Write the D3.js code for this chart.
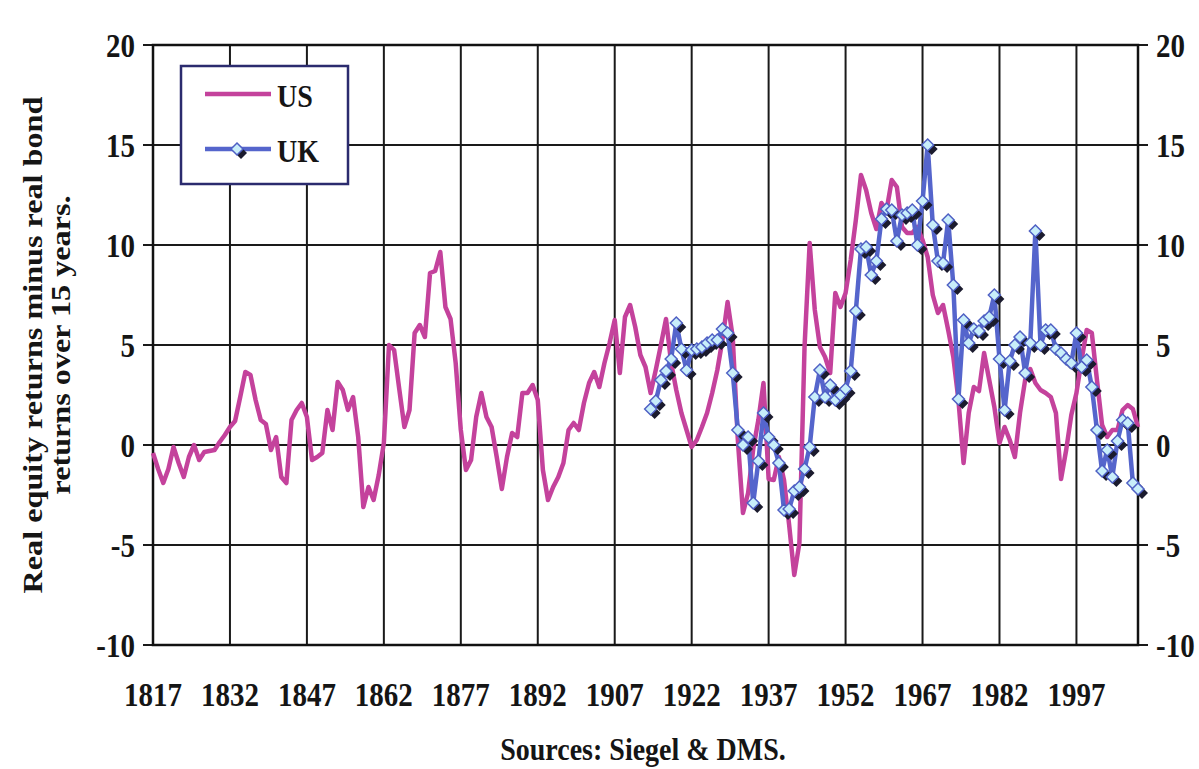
<!DOCTYPE html>
<html><head><meta charset="utf-8">
<script src="https://cdn.jsdelivr.net/npm/d3@7"></script>
<style>
body{margin:0;background:#fff;}
text{font-family:"Liberation Serif","Times New Roman",serif;font-weight:bold;fill:#151515;}
</style>
</head><body>
<svg id="c" width="1199" height="769"></svg>
<script>
// ---------- data ----------
const usStartYear = 1817;
const usValues = [
  -0.4, -1.2, -1.9,                                              // 1817-1819
  -1.2, -0.1, -0.9, -1.6, -0.6, 0.0, -0.75, -0.35, -0.3, -0.25,  // 1820s
  0.15, 0.5, 0.9, 1.2, 2.4, 3.65, 3.5, 2.25, 1.25, 1.05,         // 1830s
  -0.25, 0.4, -1.6, -1.9, 1.25, 1.75, 2.1, 1.4, -0.75, -0.6,     // 1840s
  -0.4, 1.75, 0.75, 3.15, 2.75, 1.75, 2.4, 0.4, -3.1, -2.1,      // 1850s
  -2.75, -1.5, 0.1, 5.0, 4.75, 2.8, 0.9, 1.75, 5.6, 6.0,         // 1860s
  5.4, 8.6, 8.7, 9.65, 6.9, 6.3, 4.1, 0.75, -1.25, -0.75,        // 1870s
  1.4, 2.6, 1.4, 0.9, -0.6, -2.2, -0.6, 0.6, 0.4, 2.6,           // 1880s
  2.6, 3.0, 2.25, -1.25, -2.75, -2.1, -1.6, -0.9, 0.75, 1.1,     // 1890s
  0.75, 2.1, 3.1, 3.65, 2.9, 4.1, 5.1, 6.25, 3.6, 6.4,           // 1900s
  7.0, 5.9, 4.5, 3.9, 2.6, 3.75, 5.0, 6.3, 4.1, 2.75,            // 1910s
  1.6, 0.75, -0.1, 0.25, 0.9, 1.6, 2.6, 3.75, 5.25, 7.15,        // 1920s
  5.4, 0.25, -3.4, -2.4, -0.2, 1.25, 3.1, -1.7, -1.75, -0.6,     // 1930s
  -1.75, -4.0, -6.5, -4.9, 4.9, 10.1, 6.75, 4.9, 4.4, 3.6,       // 1940s
  7.6, 6.9, 7.6, 9.25, 11.25, 13.5, 12.75, 11.6, 10.8, 12.1,     // 1950s
  11.75, 13.25, 12.9, 10.9, 10.6, 10.6, 10.9, 10.25, 9.4, 7.5,   // 1960s
  6.6, 7.0, 5.75, 4.4, 2.25, -0.9, 1.6, 2.9, 2.7, 4.6,           // 1970s
  3.25, 1.9, 0.1, 0.9, 0.25, -0.6, 1.6, 3.25, 3.8, 3.1,          // 1980s
  2.75, 2.6, 2.4, 1.6, -1.7, -0.25, 1.5, 2.6, 4.25, 5.75,        // 1990s
  5.6, 3.25, 1.0, 0.4, 0.75, 0.75, 1.75, 2.0, 1.8, 0.9           // 2000s
];
const ukStartYear = 1914;
const ukValues = [
  1.8, 2.2, 3.25, 3.7, 4.3, 6.1, 4.8, 3.75, 4.75, 4.8,           // 1914-1923
  4.9, 5.1, 5.25, 5.25, 5.8, 5.6, 3.6, 0.75, 0.0, 0.4,           // 1924-1933
  -2.9, -0.8, 1.6, 0.4, 0.0, -0.9, -3.25, -3.2, -2.3, -2.1,      // 1934-1943
  -1.2, -0.1, 2.4, 3.75, 2.4, 3.0, 2.25, 2.5, 2.8, 3.7,          // 1944-1953
  6.7, 9.8, 9.9, 8.5, 9.2, 11.3, 11.8, 11.75, 10.2, 11.5,        // 1954-1963
  11.6, 11.75, 10.0, 12.2, 15.0, 11.0, 9.2, 9.1, 11.25, 8.0,     // 1964-1973
  2.3, 6.25, 5.1, 5.8, 5.7, 6.2, 6.4, 7.5, 4.3, 1.75,            // 1974-1983
  4.2, 5.0, 5.4, 3.6, 5.1, 10.7, 5.0, 5.75, 5.75, 4.8,           // 1984-1993
  4.6, 4.3, 4.1, 5.6, 3.9, 4.25, 2.9, 0.75, -1.3, -0.25,         // 1994-2003
  -1.6, 0.2, 1.25, 1.1, -1.9, -2.2                               // 2004-2009
];
const seriesNames = ["US", "UK"];
const yTickValues = [-10, -5, 0, 5, 10, 15, 20];
const xTickYears = [1817, 1832, 1847, 1862, 1877, 1892, 1907, 1922, 1937, 1952, 1967, 1982, 1997];
const yTitleLines = ["Real equity returns minus real bond", "returns over 15 years."];
const sourceText = "Sources: Siegel & DMS.";

// ---------- build ----------
const usData = usValues.map((v, i) => ({year: usStartYear + i, v}));
const ukData = ukValues.map((v, i) => ({year: ukStartYear + i, v}));

const svg = d3.select("#c");
const x = d3.scaleLinear().domain([1817, 2009]).range([153, 1138]);
const y = d3.scaleLinear().domain([-10, 20]).range([645, 45]);
const STRETCH = 1.15;
const US_COLOR = "#c4429c", UK_COLOR = "#5565cc";

function htext(px, py, s, anchor, size) {
  return svg.append("text")
    .attr("transform", `translate(${px},${py}) scale(1,${STRETCH})`)
    .attr("text-anchor", anchor)
    .attr("dy", "0.35em")
    .style("font-size", size + "px")
    .text(s);
}

// grid
const grid = svg.append("g");
grid.selectAll("line.h").data(yTickValues).join("line")
  .attr("x1", x.range()[0] - 10).attr("x2", x.range()[1] + 10)
  .attr("y1", d => y(d)).attr("y2", d => y(d))
  .attr("stroke", "#1a1a1a").attr("stroke-width", 2);
grid.selectAll("line.v").data(xTickYears).join("line")
  .attr("x1", d => x(d)).attr("x2", d => x(d))
  .attr("y1", y(20)).attr("y2", y(-10))
  .attr("stroke", "#1a1a1a").attr("stroke-width", 2);
grid.append("rect")
  .attr("x", x.range()[0]).attr("y", y(20))
  .attr("width", x.range()[1] - x.range()[0]).attr("height", y(-10) - y(20))
  .attr("fill", "none").attr("stroke", "#111").attr("stroke-width", 2.5);

// tick labels
yTickValues.forEach(v => {
  htext(x.range()[0] - 18, y(v), String(v), "end", 29);
  htext(x.range()[1] + 18, y(v), String(v), "start", 29);
});
xTickYears.forEach(t => htext(x(t), 694, String(t), "middle", 29));

// y title
yTitleLines.forEach((s, i) => {
  svg.append("text")
    .attr("transform", `translate(${i === 0 ? 32 : 60},345) rotate(-90) scale(${STRETCH},1)`)
    .attr("text-anchor", "middle").attr("dy", "0.35em")
    .style("font-size", "28px").text(s);
});

// source
htext(643, 749, sourceText, "middle", 28);

// lines
const line = d3.line().x(d => x(d.year)).y(d => y(d.v));
svg.append("path").datum(usData).attr("d", line)
  .attr("fill", "none").attr("stroke", US_COLOR).attr("stroke-width", 4.5)
  .attr("stroke-linejoin", "round");
svg.append("path").datum(ukData).attr("d", line)
  .attr("fill", "none").attr("stroke", UK_COLOR).attr("stroke-width", 4.5)
  .attr("stroke-linejoin", "round");

const diamond = r => `M0,${-r}L${r},0L0,${r}L${-r},0Z`;
const mk = svg.append("g");
mk.selectAll("path.sh").data(ukData).join("path")
  .attr("d", diamond(6))
  .attr("transform", d => `translate(${x(d.year) + 4},${y(d.v) + 4})`)
  .attr("fill", "#1b1b2e");
mk.selectAll("path.pt").data(ukData).join("path")
  .attr("d", diamond(6))
  .attr("transform", d => `translate(${x(d.year)},${y(d.v)})`)
  .attr("fill", "#c8eefa").attr("stroke", "#4f60c4").attr("stroke-width", 1.5);

// legend
const lg = svg.append("g");
lg.append("rect").attr("x", 181).attr("y", 66).attr("width", 167).attr("height", 118)
  .attr("fill", "#fff").attr("stroke", "#2b2b6e").attr("stroke-width", 2.5);
lg.append("line").attr("x1", 205).attr("x2", 271).attr("y1", 94).attr("y2", 94)
  .attr("stroke", US_COLOR).attr("stroke-width", 4.5);
lg.append("line").attr("x1", 205).attr("x2", 271).attr("y1", 149).attr("y2", 149)
  .attr("stroke", UK_COLOR).attr("stroke-width", 4.5);
lg.append("path").attr("d", diamond(6)).attr("transform", "translate(241,153)").attr("fill", "#1b1b2e");
lg.append("path").attr("d", diamond(6)).attr("transform", "translate(237,149)")
  .attr("fill", "#c8eefa").attr("stroke", "#4f60c4").attr("stroke-width", 1.5);
lg.append("text").attr("transform", `translate(277,96) scale(1,${STRETCH})`).attr("dy", "0.35em")
  .style("font-size", "28px").text(seriesNames[0]);
lg.append("text").attr("transform", `translate(277,151) scale(1,${STRETCH})`).attr("dy", "0.35em")
  .style("font-size", "28px").text(seriesNames[1]);
</script>
</body></html>
